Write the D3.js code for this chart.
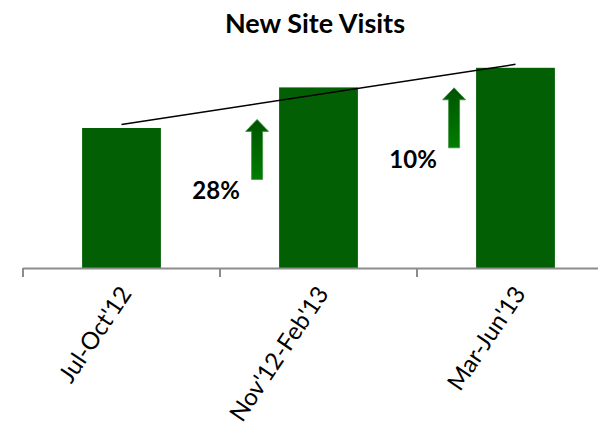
<!DOCTYPE html>
<html>
<head>
<meta charset="utf-8">
<script src="https://cdn.jsdelivr.net/npm/d3@7"></script>
<style>
  body { margin: 0; background: #fff; }
  svg { display: block; font-family: Lato, "Open Sans", sans-serif; }
</style>
</head>
<body>
<script>
// chart data
const categories = ["Jul-Oct'12", "Nov'12-Feb'13", "Mar-Jun'13"];
const visits = [100, 129, 143];
const growthLabels = ["28%", "10%"];

const width = 598;
const height = 433;
const baseY = 268;

const svg = d3.select("body")
  .append("svg")
  .attr("width", width)
  .attr("height", height);

// arrow fill
const grad = svg.append("defs")
  .append("linearGradient")
  .attr("id", "arrowFill")
  .attr("x1", 0).attr("y1", 0)
  .attr("x2", 0).attr("y2", 1);
grad.append("stop").attr("offset", "0%").attr("stop-color", "#005300");
grad.append("stop").attr("offset", "100%").attr("stop-color", "#007d00");

const x = d3.scaleBand()
  .domain(categories)
  .range([23, 614])
  .paddingInner(0.6)
  .paddingOuter(0.3);

const y = d3.scaleLinear()
  .domain([0, 100])
  .range([baseY, 128]);

// title
svg.append("text")
  .attr("x", 315)
  .attr("y", 33)
  .attr("text-anchor", "middle")
  .style("font-size", "27px")
  .style("font-weight", "bold")
  .text("New Site Visits");

// bars
svg.selectAll("rect.bar")
  .data(categories)
  .enter()
  .append("rect")
  .attr("class", "bar")
  .attr("x", d => x(d))
  .attr("width", x.bandwidth())
  .attr("y", (d, i) => y(visits[i]))
  .attr("height", (d, i) => baseY - y(visits[i]))
  .attr("fill", "#035f03");

// axis line + ticks between categories
svg.append("line")
  .attr("x1", x.range()[0])
  .attr("x2", width)
  .attr("y1", baseY + 0.5)
  .attr("y2", baseY + 0.5)
  .attr("stroke", "#8c8c8c")
  .attr("stroke-width", 2);

svg.selectAll("line.tick")
  .data(d3.range(categories.length))
  .enter()
  .append("line")
  .attr("class", "tick")
  .attr("x1", i => x.range()[0] + i * x.step())
  .attr("x2", i => x.range()[0] + i * x.step())
  .attr("y1", baseY)
  .attr("y2", baseY + 9)
  .attr("stroke", "#8c8c8c")
  .attr("stroke-width", 2);

// rotated category labels
svg.selectAll("text.cat")
  .data(categories)
  .enter()
  .append("text")
  .attr("class", "cat")
  .attr("text-anchor", "end")
  .attr("transform", d => `translate(${x(d) + x.bandwidth() / 2 + 4},${baseY + 21}) rotate(-56)`)
  .attr("dy", "0.35em")
  .style("font-size", "24px")
  .text(d => d);

// linear trendline through bar tops
const pts = categories.map((c, i) => [x(c) + x.bandwidth() / 2, y(visits[i])]);
const mx = d3.mean(pts, p => p[0]);
const my = d3.mean(pts, p => p[1]);
const slope = d3.sum(pts, p => (p[0] - mx) * (p[1] - my)) / d3.sum(pts, p => (p[0] - mx) ** 2);
const fit = px => my + slope * (px - mx);
svg.append("line")
  .attr("x1", pts[0][0])
  .attr("y1", fit(pts[0][0]))
  .attr("x2", pts[pts.length - 1][0])
  .attr("y2", fit(pts[pts.length - 1][0]))
  .attr("stroke", "#000")
  .attr("stroke-width", 1.5);

// growth arrows and labels
const tipOffsets = [32, 20];
growthLabels.forEach((lab, i) => {
  const cx = x(categories[i + 1]) - 22;
  const tip = y(visits[i + 1]) + tipOffsets[i];
  const bottom = tip + 60;
  const headBase = tip + 12;
  const path = d3.path();
  path.moveTo(cx, tip);
  path.lineTo(cx + 11.5, headBase);
  path.lineTo(cx + 5.5, headBase);
  path.lineTo(cx + 5.5, bottom);
  path.lineTo(cx - 5.5, bottom);
  path.lineTo(cx - 5.5, headBase);
  path.lineTo(cx - 11.5, headBase);
  path.closePath();
  svg.append("path")
    .attr("d", path.toString())
    .attr("fill", "url(#arrowFill)")
    .attr("stroke", "#3d8f3d")
    .attr("stroke-width", 0.8);

  svg.append("text")
    .attr("x", cx - 41)
    .attr("y", bottom + 20)
    .attr("text-anchor", "middle")
    .style("font-size", "24px")
    .style("font-weight", "bold")
    .text(lab);
});
</script>
</body>
</html>
